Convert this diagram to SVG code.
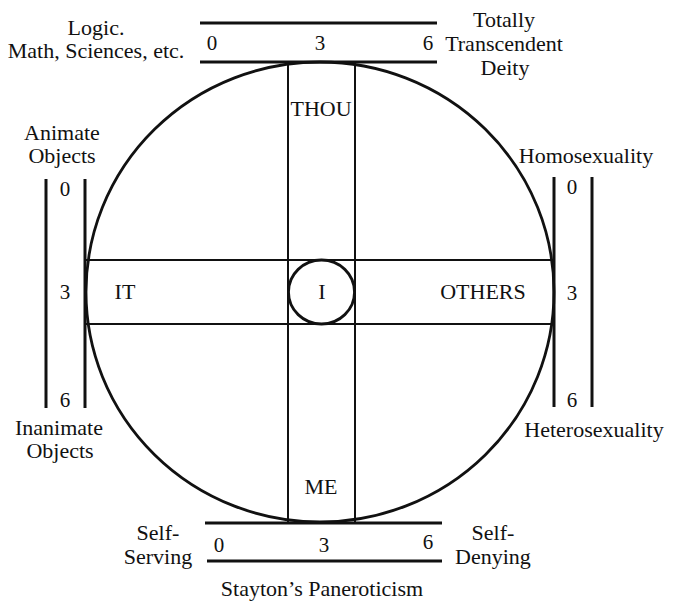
<svg xmlns="http://www.w3.org/2000/svg" width="675" height="601" viewBox="0 0 675 601">
<style>
.t{font-family:"Liberation Serif","Times New Roman",serif;font-size:22px;fill:#111;text-anchor:middle;}
.n{font-family:"Liberation Serif","Times New Roman",serif;font-size:21px;fill:#111;text-anchor:middle;}
.scale{stroke:#111;stroke-width:3;fill:none;}
.thin{stroke:#111;stroke-width:2;fill:none;}
.circ{stroke:#111;stroke-width:2.8;fill:none;}
</style>
<rect width="675" height="601" fill="#fff"/>
<g id="connectors">
  <line class="thin" x1="288" y1="62" x2="288" y2="522"/>
  <line class="thin" x1="355" y1="62" x2="355" y2="522"/>
  <line class="thin" x1="86" y1="260" x2="554" y2="260"/>
  <line class="thin" x1="86" y1="324" x2="554" y2="324"/>
</g>
<g id="main-circle">
  <ellipse class="circ" cx="320" cy="292" rx="234" ry="230"/>
</g>
<g id="node-I">
  <ellipse class="circ" cx="321.5" cy="292" rx="33" ry="32" fill="#fff"/>
  <text class="t" x="322" y="299">I</text>
</g>
<g id="node-THOU"><text class="t" x="321" y="116">THOU</text></g>
<g id="node-ME"><text class="t" x="321" y="494">ME</text></g>
<g id="node-IT"><text class="t" x="125" y="299">IT</text></g>
<g id="node-OTHERS"><text class="t" x="483" y="299">OTHERS</text></g>
<g id="scale-top">
  <line class="scale" x1="200" y1="23" x2="437" y2="23"/>
  <line class="scale" x1="200" y1="62" x2="437" y2="62"/>
  <text class="n" x="212" y="50">0</text>
  <text class="n" x="320" y="50">3</text>
  <text class="n" x="428" y="50">6</text>
  <text class="t" x="96" y="35">Logic.</text>
  <text class="t" x="96" y="58">Math, Sciences, etc.</text>
  <text class="t" x="504" y="27">Totally</text>
  <text class="t" x="504" y="51">Transcendent</text>
  <text class="t" x="505" y="75">Deity</text>
</g>
<g id="scale-left">
  <line class="scale" x1="46" y1="179" x2="46" y2="408"/>
  <line class="scale" x1="85" y1="179" x2="85" y2="408"/>
  <text class="n" x="65" y="196">0</text>
  <text class="n" x="65" y="299">3</text>
  <text class="n" x="65" y="407">6</text>
  <text class="t" x="62" y="140">Animate</text>
  <text class="t" x="62" y="163">Objects</text>
  <text class="t" x="59" y="435">Inanimate</text>
  <text class="t" x="60" y="458">Objects</text>
</g>
<g id="scale-right">
  <line class="scale" x1="554" y1="177" x2="554" y2="407"/>
  <line class="scale" x1="592" y1="177" x2="592" y2="407"/>
  <text class="n" x="572" y="194">0</text>
  <text class="n" x="572" y="300">3</text>
  <text class="n" x="572" y="407">6</text>
  <text class="t" x="586" y="163">Homosexuality</text>
  <text class="t" x="594" y="437">Heterosexuality</text>
</g>
<g id="scale-bottom">
  <line class="scale" x1="205" y1="523" x2="442" y2="523"/>
  <line class="scale" x1="207" y1="561" x2="442" y2="561"/>
  <text class="n" x="219" y="552">0</text>
  <text class="n" x="324" y="552">3</text>
  <text class="n" x="428" y="549">6</text>
  <text class="t" x="158" y="540">Self-</text>
  <text class="t" x="158" y="564">Serving</text>
  <text class="t" x="493" y="540">Self-</text>
  <text class="t" x="493" y="564">Denying</text>
  <text class="t" x="322" y="596">Stayton’s Paneroticism</text>
</g>
</svg>
